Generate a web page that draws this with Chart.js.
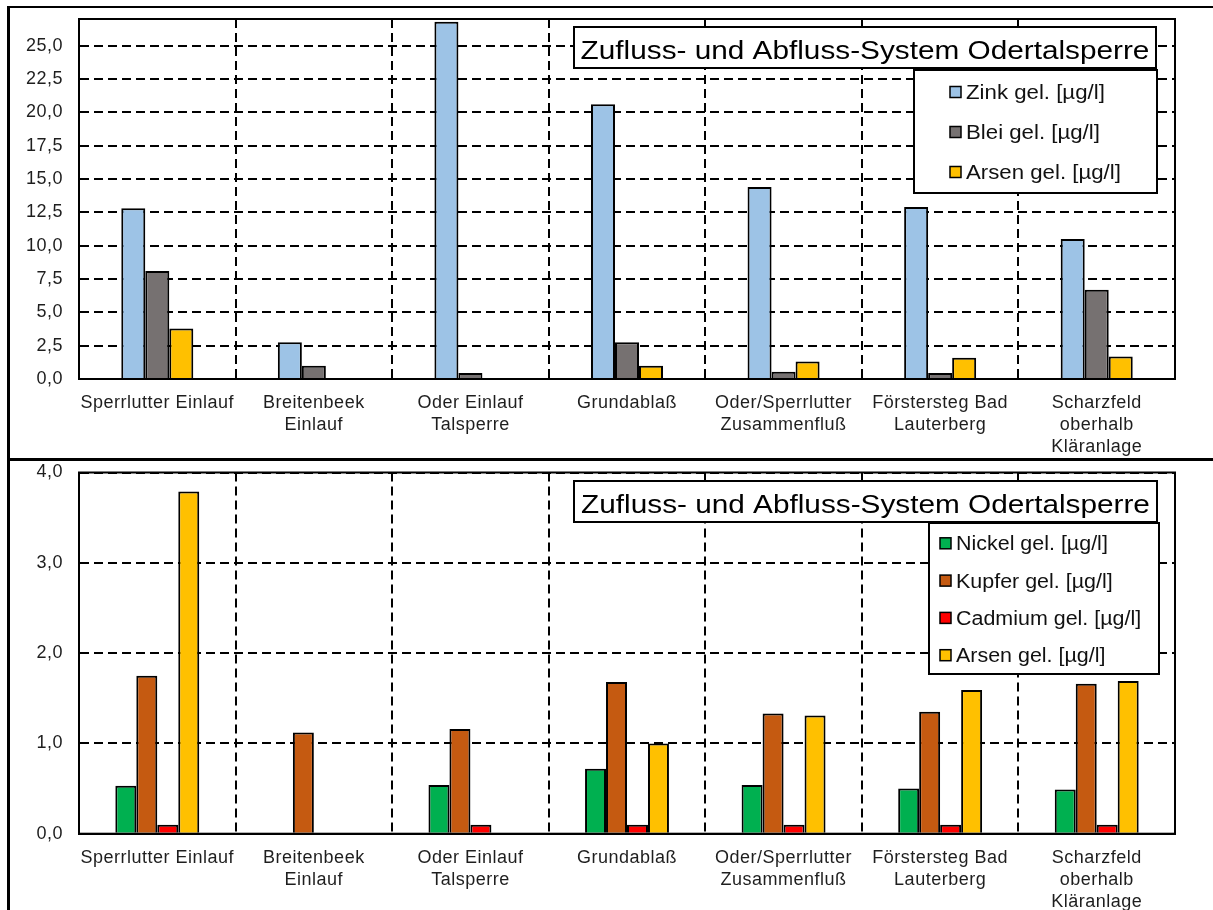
<!DOCTYPE html>
<html>
<head>
<meta charset="utf-8">
<script src="https://cdn.jsdelivr.net/npm/chart.js@4.4.1/dist/chart.umd.min.js"></script>
<style>
  html, body { margin: 0; padding: 0; background: #fff; overflow: hidden; }
  #page { position: relative; width: 1213px; height: 910px; overflow: hidden; background: #fff; }
  canvas { position: absolute; left: 0; }
  #topChart { top: 0; }
  #bottomChart { top: 459px; }
  .frame { position: absolute; left: 7px; top: 6px; width: 1300px; height: 1000px;
           border-left: 3px solid #000; border-top: 2px solid #000; pointer-events: none; }
  .sep { position: absolute; left: 7px; top: 458px; width: 1300px; height: 3px; background: #000; }
</style>
</head>
<body>
<div id="page">
  <canvas id="topChart" width="1213" height="459"></canvas>
  <canvas id="bottomChart" width="1213" height="451"></canvas>
  <div class="frame"></div>
  <div class="sep"></div>
</div>
<script>
// Sampling sites along the Oder reservoir system
const categories = [
  'Sperrlutter Einlauf',
  ['Breitenbeek', 'Einlauf'],
  ['Oder Einlauf', 'Talsperre'],
  'Grundablaß',
  ['Oder/Sperrlutter', 'Zusammenfluß'],
  ['Förstersteg Bad', 'Lauterberg'],
  ['Scharzfeld', 'oberhalb', 'Kläranlage']
];

const panelTitle = 'Zufluss- und Abfluss-System Odertalsperre';

// Dissolved metal concentrations in µg/l (null = not detected)
const zink    = [12.8, 2.75, 26.8, 20.6, 14.4, 12.9, 10.5];
const blei    = [8.1, 1.0, 0.45, 2.75, 0.55, 0.45, 6.7];
const arsen   = [3.79, null, null, 1.0, 1.31, 1.59, 1.69];
const nickel  = [0.53, null, 0.54, 0.72, 0.54, 0.5, 0.49];
const kupfer  = [1.75, 1.12, 1.16, 1.68, 1.33, 1.35, 1.66];
const cadmium = [0.1, null, 0.1, 0.1, 0.1, 0.1, 0.1];

// Value-axis tick labels
const topTicks    = [0, 2.5, 5, 7.5, 10, 12.5, 15, 17.5, 20, 22.5, 25];
const bottomTicks = [0, 1, 2, 3, 4];

const FONT = "'Liberation Sans', Arial, Helvetica, sans-serif";

// Draws the plot frame, the boxed heading and the boxed legend inside the plot area
const panelDecor = {
  id: 'panelDecor',
  beforeUpdate(chart) { chart.ctx.letterSpacing = '0.5px'; },
  beforeDraw(chart) { chart.ctx.letterSpacing = '0.5px'; },
  afterDraw(chart, args, o) {
    const ctx = chart.ctx, a = chart.chartArea;
    ctx.save();
    ctx.letterSpacing = '0px';
    ctx.strokeStyle = '#000';
    ctx.lineWidth = 2;
    ctx.strokeRect(a.left, a.top, a.right - a.left, a.bottom - a.top);

    const t = o.title;
    ctx.fillStyle = '#fff';
    ctx.fillRect(t.x, t.y, t.w, t.h);
    ctx.strokeRect(t.x, t.y, t.w, t.h);
    ctx.fillStyle = '#000';
    ctx.font = t.size + 'px ' + FONT;
    ctx.textAlign = 'center';
    ctx.textBaseline = 'alphabetic';
    ctx.save();
    ctx.translate(t.x + t.w / 2, t.y + t.base);
    ctx.scale(t.sx, 1);
    ctx.fillText(t.text, 0, 0);
    ctx.restore();

    const L = o.legend;
    ctx.fillStyle = '#fff';
    ctx.fillRect(L.x, L.y, L.w, L.h);
    ctx.strokeRect(L.x, L.y, L.w, L.h);
    ctx.font = L.size + 'px ' + FONT;
    ctx.textAlign = 'left';
    chart.data.datasets.forEach((ds, i) => {
      const cy = L.y + L.first + i * L.step;
      ctx.fillStyle = ds.backgroundColor;
      ctx.fillRect(L.mx, cy - L.box / 2, L.box, L.box);
      ctx.lineWidth = 1.5;
      ctx.strokeStyle = '#000';
      ctx.strokeRect(L.mx, cy - L.box / 2, L.box, L.box);
      ctx.fillStyle = '#111';
      ctx.save();
      ctx.translate(L.tx, cy + L.size * 0.36);
      ctx.scale(L.sx, 1);
      ctx.fillText(ds.label, 0, 0);
      ctx.restore();
    });
    ctx.restore();
  }
};

function bar(label, data, color) {
  return { label, data, backgroundColor: color, borderColor: '#000', borderWidth: 2 };
}

function buildOptions(cfg) {
  return {
    responsive: false,
    animation: false,
    devicePixelRatio: 1,
    layout: { padding: { top: cfg.top, right: 38, left: 0, bottom: 0 } },
    datasets: { bar: { categoryPercentage: cfg.groupPct, barPercentage: 1 } },
    plugins: {
      legend: { display: false },
      title: { display: false },
      tooltip: { enabled: false },
      panelDecor: { title: cfg.title, legend: cfg.legend }
    },
    scales: {
      x: {
        ticks: {
          padding: 13, color: '#1e1e1e', autoSkip: false, maxRotation: 0, minRotation: 0,
          font: { family: FONT, size: 18, lineHeight: 1.22 }
        },
        grid: { color: '#000', lineWidth: 2, drawTicks: false, offset: true },
        border: { display: true, color: '#000', width: 2, dash: [9, 5] },
        afterFit: s => { s.height = cfg.xHeight; s.paddingLeft = 0; s.paddingRight = 0; }
      },
      y: {
        min: 0, max: cfg.max,
        afterBuildTicks: s => { s.ticks = cfg.ticks.map(v => ({ value: v })); },
        ticks: {
          padding: 16, color: '#1e1e1e',
          font: { family: FONT, size: 18 },
          callback: v => Number(v).toFixed(1).replace('.', ',')
        },
        grid: { color: '#000', lineWidth: 2, drawTicks: false },
        border: { display: true, color: '#000', width: 2, dash: [9, 5] },
        afterFit: s => { s.width = 79; s.paddingTop = 0; s.paddingBottom = 0; }
      }
    }
  };
}

new Chart(document.getElementById('topChart'), {
  type: 'bar',
  data: {
    labels: categories,
    datasets: [
      bar('Zink gel. [µg/l]', zink, '#9DC3E6'),
      bar('Blei gel. [µg/l]', blei, '#767171'),
      bar('Arsen gel. [µg/l]', arsen, '#FFC000')
    ]
  },
  options: buildOptions({
    top: 19, xHeight: 80, max: 27, ticks: topTicks, groupPct: 0.46,
    title: { text: panelTitle, x: 574, y: 27, w: 582, h: 41, base: 31.5, size: 25, sx: 1.19 },
    legend: { x: 914, y: 70, w: 243, h: 123, first: 22, step: 40, mx: 950, box: 11, tx: 966, size: 19.5, sx: 1.14 }
  }),
  plugins: [panelDecor]
});

new Chart(document.getElementById('bottomChart'), {
  type: 'bar',
  data: {
    labels: categories,
    datasets: [
      bar('Nickel gel. [µg/l]', nickel, '#00B050'),
      bar('Kupfer gel. [µg/l]', kupfer, '#C55A11'),
      bar('Cadmium gel. [µg/l]', cadmium, '#FF0000'),
      bar('Arsen gel. [µg/l]', arsen, '#FFC000')
    ]
  },
  options: buildOptions({
    top: 13.5, xHeight: 76.3, max: 4, ticks: bottomTicks, groupPct: 0.536,
    title: { text: panelTitle, x: 574, y: 22, w: 583, h: 41, base: 31.5, size: 25, sx: 1.19 },
    legend: { x: 929, y: 64, w: 230, h: 151, first: 20.3, step: 37.3, mx: 940, box: 11, tx: 956, size: 19.5, sx: 1.1 }
  }),
  plugins: [panelDecor]
});
</script>
</body>
</html>
